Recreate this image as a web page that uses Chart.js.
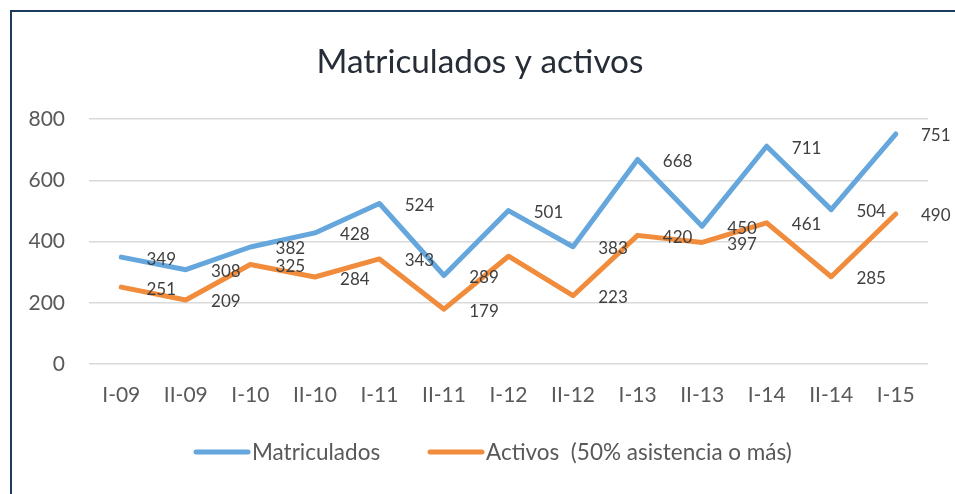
<!DOCTYPE html>
<html>
<head>
<meta charset="utf-8">
<script src="https://cdn.jsdelivr.net/npm/chart.js@4.4.1/dist/chart.umd.min.js"></script>
<style>
    html, body { margin: 0; padding: 0; background: #fff; }
    #wrap { position: relative; width: 955px; height: 494px; }
</style>
</head>
<body>
<div id="wrap"><canvas id="chart" width="955" height="494"></canvas></div>
<script>
const semestres = ["I-09", "II-09", "I-10", "II-10", "I-11", "II-11", "I-12", "II-12", "I-13", "II-13", "I-14", "II-14", "I-15"];
const matriculados = [349, 308, 382, 428, 524, 289, 501, 383, 668, 450, 711, 504, 751];
const activos = [251, 209, 325, 284, 343, 179, 352, 223, 420, 397, 461, 285, 490];
// the I-12 label for activos is not shown in the original
const activosSinEtiqueta = [6];
const yTicks = [0, 200, 400, 600, 800];

const azul = "#65a6dc";
const naranja = "#f08c3b";
const fuente = "Lato, 'Open Sans', sans-serif";

// frame, title, point labels and legend
const extras = {
    id: "extras",
    beforeDraw(chart) {
        const ctx = chart.ctx;
        ctx.save();
        ctx.strokeStyle = "#1b3a5c";
        ctx.lineWidth = 2;
        ctx.beginPath();
        ctx.moveTo(11, 494);
        ctx.lineTo(11, 11);
        ctx.lineTo(955, 11);
        ctx.stroke();
        ctx.restore();
    },
    afterDraw(chart) {
        const ctx = chart.ctx;
        ctx.save();
        // title
        ctx.fillStyle = "#262d36";
        ctx.font = "33.3px " + fuente;
        ctx.textAlign = "center";
        ctx.textBaseline = "alphabetic";
        ctx.fillText("Matriculados y activos", 480, 73);

        // value labels, to the right of each point
        ctx.font = "17px " + fuente;
        ctx.fillStyle = "#404040";
        ctx.textBaseline = "middle";
        chart.data.datasets.forEach((ds, di) => {
            const meta = chart.getDatasetMeta(di);
            meta.data.forEach((pt, i) => {
                if (di === 1 && activosSinEtiqueta.includes(i)) return;
                ctx.fillText(String(ds.data[i]), pt.x + 40, pt.y + 2);
            });
        });

        // legend
        ctx.font = "22.5px " + fuente;
        ctx.fillStyle = "#595959";
        ctx.textAlign = "left";
        ctx.lineWidth = 5;
        ctx.lineCap = "round";
        const items = [
            { text: "Matriculados", color: azul, x: 196 },
            { text: "Activos  (50% asistencia o más)", color: naranja, x: 430 },
        ];
        items.forEach((it) => {
            ctx.strokeStyle = it.color;
            ctx.beginPath();
            ctx.moveTo(it.x, 452);
            ctx.lineTo(it.x + 52, 452);
            ctx.stroke();
            ctx.fillText(it.text, it.x + 56, 453);
        });
        ctx.restore();
    },
};

const config = {
    type: "line",
    data: {
        labels: semestres,
        datasets: [
            {
                label: "Matriculados",
                data: matriculados,
                borderColor: azul,
                backgroundColor: azul,
                borderWidth: 5,
                borderCapStyle: "round",
                borderJoinStyle: "round",
                pointRadius: 0,
                fill: false,
                tension: 0,
            },
            {
                label: "Activos  (50% asistencia o más)",
                data: activos,
                borderColor: naranja,
                backgroundColor: naranja,
                borderWidth: 5,
                borderCapStyle: "round",
                borderJoinStyle: "round",
                pointRadius: 0,
                fill: false,
                tension: 0,
            },
        ],
    },
    options: {
        responsive: false,
        animation: false,
        layout: {
            padding: { top: 119, right: 27, bottom: 80, left: 0 },
        },
        plugins: {
            legend: { display: false },
            title: { display: false },
            tooltip: { enabled: false },
        },
        scales: {
            x: {
                offset: true,
                grid: { display: false, drawTicks: false },
                border: { display: false },
                ticks: {
                    color: "#595959",
                    font: { family: fuente, size: 21 },
                    padding: 19,
                    maxRotation: 0,
                    autoSkip: false,
                },
                afterFit: (s) => { s.height = 50; },
            },
            y: {
                min: 0,
                max: 800,
                afterBuildTicks: (s) => { s.ticks = yTicks.map((v) => ({ value: v })); },
                grid: { color: "#d9d9d9", lineWidth: 1.5, drawTicks: false },
                border: { display: false },
                ticks: {
                    color: "#595959",
                    font: { family: fuente, size: 21 },
                    padding: 24,
                },
                afterFit: (s) => { s.width = 89; },
            },
        },
    },
    plugins: [extras],
};

const matriculadosChart = new Chart(document.getElementById("chart"), config);
</script>
</body>
</html>
